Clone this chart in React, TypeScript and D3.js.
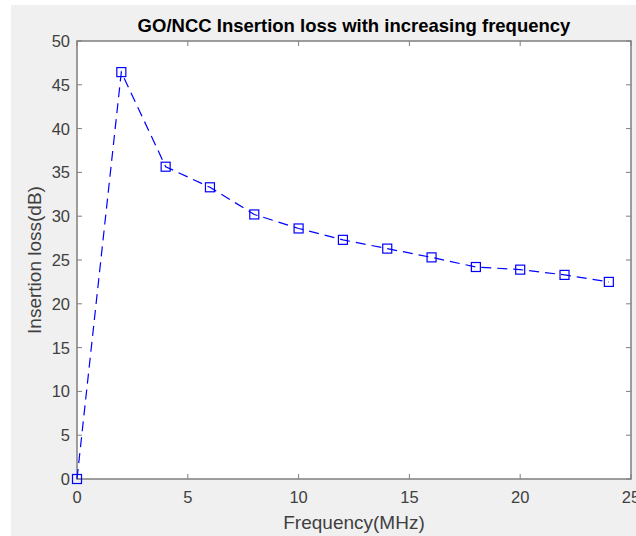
import React from "react";
import * as d3 from "d3";

const frequencies = [0, 2, 4, 6, 8, 10, 12, 14, 16, 18, 20, 22, 24];
const insertionLoss = [0, 46.45, 35.65, 33.3, 30.2, 28.6, 27.3, 26.3, 25.3, 24.2, 23.9, 23.3, 22.5];
const xTicks = [0, 5, 10, 15, 20, 25];
const yTicks = [0, 5, 10, 15, 20, 25, 30, 35, 40, 45, 50];
const title = "GO/NCC Insertion loss with increasing frequency";
const xLabel = "Frequency(MHz)";
const yLabel = "Insertion loss(dB)";

export default function App() {
  const W = 636, H = 536;
  const left = 77, right = 631, top = 41, bottom = 479;
  const x = d3.scaleLinear().domain([0, 25]).range([left, right]);
  const y = d3.scaleLinear().domain([0, 50]).range([bottom, top]);
  const pts = frequencies.map((f, i) => [f, insertionLoss[i]] as [number, number]);
  const line = d3.line<[number, number]>().x(d => x(d[0])).y(d => y(d[1]))(pts) || "";
  const axisColor = "#7f7f7f";
  const font = "'Liberation Sans', Arial, sans-serif";
  const tl = 5;
  return (
    <svg width={W} height={H} style={{ position: "absolute", left: 0, top: 0, display: "block" }}>
      <rect x={0} y={0} width={W} height={H} fill="#ffffff" />
      <rect x={11} y={5} width={W - 11} height={H - 5} fill="#f0f0f0" />
      <rect x={left} y={top} width={right - left} height={bottom - top} fill="#ffffff" />
      {xTicks.map(t => (
        <g key={"x" + t}>
          <line x1={x(t)} x2={x(t)} y1={bottom} y2={bottom - tl} stroke={axisColor} />
          <line x1={x(t)} x2={x(t)} y1={top} y2={top + tl} stroke={axisColor} />
          <text x={x(t)} y={bottom + 24} textAnchor="middle" fontSize={16.5} fontFamily={font} fill="#404040">{t}</text>
        </g>
      ))}
      {yTicks.map(t => (
        <g key={"y" + t}>
          <line x1={left} x2={left + tl} y1={y(t)} y2={y(t)} stroke={axisColor} />
          <line x1={right} x2={right - tl} y1={y(t)} y2={y(t)} stroke={axisColor} />
          <text x={left - 7} y={y(t) + 6} textAnchor="end" fontSize={16.5} fontFamily={font} fill="#404040">{t}</text>
        </g>
      ))}
      <rect x={left} y={top} width={right - left} height={bottom - top} fill="none" stroke={axisColor} strokeWidth={1.5} />
      <path d={line} fill="none" stroke="#0000ff" strokeWidth={1.2} strokeDasharray="10,6" />
      {pts.map((p, i) => (
        <rect key={i} x={x(p[0]) - 4.5} y={y(p[1]) - 4.5} width={9} height={9} fill="none" stroke="#0000ff" strokeWidth={1.2} />
      ))}
      <text x={(left + right) / 2} y={32} textAnchor="middle" fontSize={18.5} fontWeight="bold" fontFamily={font} fill="#000">{title}</text>
      <text x={(left + right) / 2} y={529} textAnchor="middle" fontSize={19} fontFamily={font} fill="#404040">{xLabel}</text>
      <text transform={`translate(41, ${(top + bottom) / 2}) rotate(-90)`} textAnchor="middle" fontSize={19} fontFamily={font} fill="#404040">{yLabel}</text>
    </svg>
  );
}
